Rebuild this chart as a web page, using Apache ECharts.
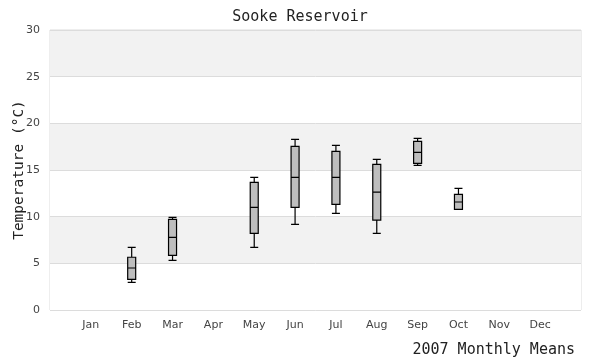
<!DOCTYPE html>
<html>
<head>
<meta charset="utf-8">
<script src="https://cdn.jsdelivr.net/npm/echarts@6/dist/echarts.min.js"></script>
<style>html,body{margin:0;padding:0;background:#fff}#c{width:600px;height:360px}</style>
</head>
<body>
<div id="c"></div>
<script>
var months = ['Jan','Feb','Mar','Apr','May','Jun','Jul','Aug','Sep','Oct','Nov','Dec'];
var minVals = ['-', 2.97, 5.32, '-', 6.72, 9.18, 10.36, 8.21, 15.5, 10.79, '-', '-'];
var q1Vals  = ['-', 3.29, 5.86, '-', 8.21, 11.0, 11.32, 9.64, 15.71, 10.79, '-', '-'];
var medVals = ['-', 4.5, 7.79, '-', 11.0, 14.21, 14.21, 12.64, 16.89, 11.57, '-', '-'];
var q3Vals  = ['-', 5.65, 9.71, '-', 13.68, 17.54, 17.0, 15.61, 18.07, 12.39, '-', '-'];
var maxVals = ['-', 6.72, 9.93, '-', 14.21, 18.29, 17.64, 16.14, 18.39, 13.04, '-', '-'];
var yTicks = [0, 5, 10, 15, 20, 25, 30];

var cats = [''].concat(months).concat(['']);
var boxData = [['-','-','-','-','-']];
for (var i = 0; i < months.length; i++) {
  boxData.push([minVals[i], q1Vals[i], medVals[i], q3Vals[i], maxVals[i]]);
}
boxData.push(['-','-','-','-','-']);

var mono = '"DejaVu Sans Mono", monospace';
var chart = echarts.init(document.getElementById('c'), null, {renderer: 'canvas'});
chart.setOption({
  animation: false,
  backgroundColor: '#fff',
  title: [
    {text: 'Sooke Reservoir', left: 'center', top: 5,
     textStyle: {fontFamily: mono, fontSize: 15, fontWeight: 'normal', color: '#222'}},
    {text: '2007 Monthly Means', right: 20, top: 338,
     textStyle: {fontFamily: mono, fontSize: 15, fontWeight: 'normal', color: '#222'}}
  ],
  grid: {left: 50, right: 19, top: 30, bottom: 50, containLabel: false, outerBoundsMode: 'none',
         show: true, borderColor: '#dcdcdc', borderWidth: 1, backgroundColor: 'transparent'},
  xAxis: {
    type: 'category', data: cats, boundaryGap: false,
    axisLine: {show: false}, axisTick: {show: false}, splitLine: {show: false},
    axisLabel: {color: '#444', fontFamily: '"DejaVu Sans", sans-serif', fontSize: 11, margin: 10, interval: 0}
  },
  yAxis: {
    type: 'value', min: yTicks[0], max: yTicks[yTicks.length - 1], interval: 5,
    name: 'Temperature (\u00B0C)', nameLocation: 'middle', nameGap: 23, nameMoveOverlap: false,
    nameTextStyle: {fontFamily: mono, fontSize: 14.5, color: '#222'},
    axisLine: {show: false}, axisTick: {show: false},
    axisLabel: {color: '#444', fontFamily: '"DejaVu Sans", sans-serif', fontSize: 11, margin: 10},
    splitLine: {show: true, lineStyle: {color: '#dcdcdc', width: 1}},
    splitArea: {show: true, areaStyle: {color: ['#ffffff', '#f2f2f2']}}
  },
  series: [{
    type: 'boxplot', data: boxData, boxWidth: [8, 8],
    itemStyle: {color: '#bebebe', borderColor: '#000', borderWidth: 1.2},
    emphasis: {disabled: true}
  }]
});
</script>
</body>
</html>
